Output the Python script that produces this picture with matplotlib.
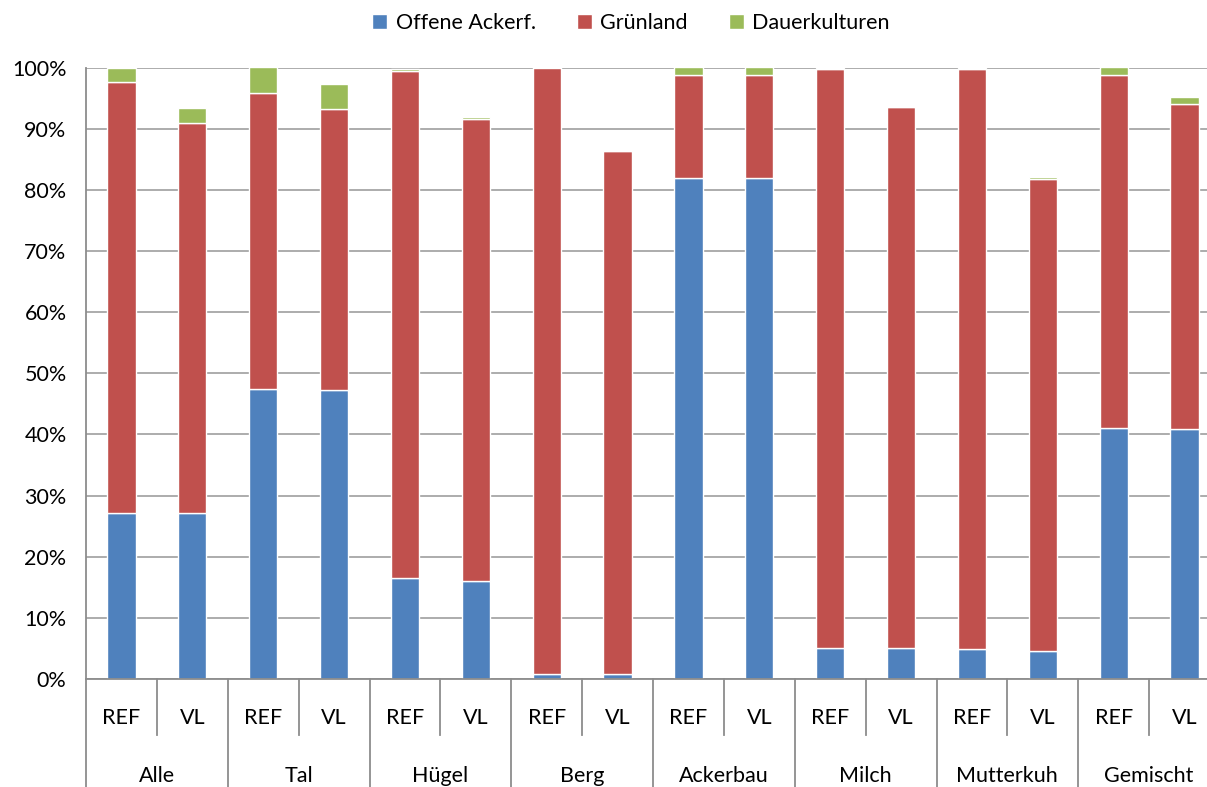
import matplotlib.pyplot as plt
import matplotlib.transforms as mtransforms
import numpy as np

plt.rcParams['font.family'] = ['Lato', 'DejaVu Sans']

# Flächenanteile in %
gruppen = ['Alle', 'Tal', 'Hügel', 'Berg', 'Ackerbau', 'Milch', 'Mutterkuh', 'Gemischt']
varianten = ['REF', 'VL']
offene = [27.1, 27.1, 47.5, 47.2, 16.5, 16.0, 0.8, 0.8, 82.0, 82.0, 5.0, 5.0, 4.9, 4.6, 41.1, 40.9]
gruenland = [70.6, 63.9, 48.4, 46.0, 82.9, 75.6, 99.2, 85.5, 16.8, 16.8, 94.7, 88.6, 94.8, 77.1, 57.7, 53.1]
dauer = [2.3, 2.3, 4.1, 4.1, 0.4, 0.3, 0.0, 0.0, 1.2, 1.2, 0.2, 0.0, 0.2, 0.4, 1.2, 1.1]

blau = '#4F81BD'
rot = '#C0504D'
gruen = '#9BBB59'
grau = '#8c8c8c'
fs = 15.5

W, H = 1207, 787
fig = plt.figure(figsize=(W / 100, H / 100), dpi=100)
# Plotfläche reicht rechts leicht über den Bildrand hinaus
links, rechts, unten, oben = 86, 1220, 679, 67.5
ax = fig.add_axes([links / W, (H - unten) / H, (rechts - links) / W, (unten - oben) / H])

n = len(offene)
x = np.arange(n)
b1 = np.array(offene)
b2 = b1 + np.array(gruenland)

kw = dict(width=0.4, edgecolor='white', linewidth=1.0, zorder=3)
ax.bar(x, offene, color=blau, label='Offene Ackerf.', **kw)
ax.bar(x, gruenland, bottom=b1, color=rot, label='Grünland', **kw)
ax.bar(x, dauer, bottom=b2, color=gruen, label='Dauerkulturen', **kw)

ax.set_xlim(-0.5, n - 0.5)
ax.set_ylim(0, 100)
ax.set_yticks(np.arange(0, 101, 10))
ax.set_yticklabels([f'{v}%' for v in range(0, 101, 10)], fontsize=fs)
ax.yaxis.grid(True, color='#a6a6a6', linewidth=1.3, zorder=0)
ax.tick_params(axis='y', length=0, pad=14)

for s in ['top', 'right', 'bottom']:
    ax.spines[s].set_visible(False)
ax.spines['left'].set_color(grau)
ax.spines['left'].set_linewidth(1.3)

# zweistufige Kategorienachse
ax.set_xticks([])
trans = mtransforms.blended_transform_factory(ax.transData, ax.transAxes)
px = 1.0 / (unten - oben)
ax.plot([-0.5, n - 0.5], [0, 0], transform=trans, color=grau, lw=1.3, clip_on=False, zorder=4)
for i in range(n + 1):
    xb = i - 0.5
    if i % 2 == 0:
        y_end = -(H - unten) * px
    else:
        y_end = -56 * px
    ax.plot([xb, xb], [0, y_end], transform=trans, color=grau, lw=1.3, clip_on=False)

for i in range(n):
    ax.text(i, -39 * px, varianten[i % 2], transform=trans, ha='center', va='center', fontsize=fs)
for g, name in enumerate(gruppen):
    ax.text(2 * g + 0.5, -97 * px, name, transform=trans, ha='center', va='center', fontsize=fs)

fig.legend(loc='center', bbox_to_anchor=(631 / W, 1 - 23 / H), ncol=3, frameon=False,
           fontsize=fs, handlelength=0.7, handleheight=0.7, handletextpad=0.4,
           columnspacing=1.9)

fig.savefig('out.png', dpi=100)
